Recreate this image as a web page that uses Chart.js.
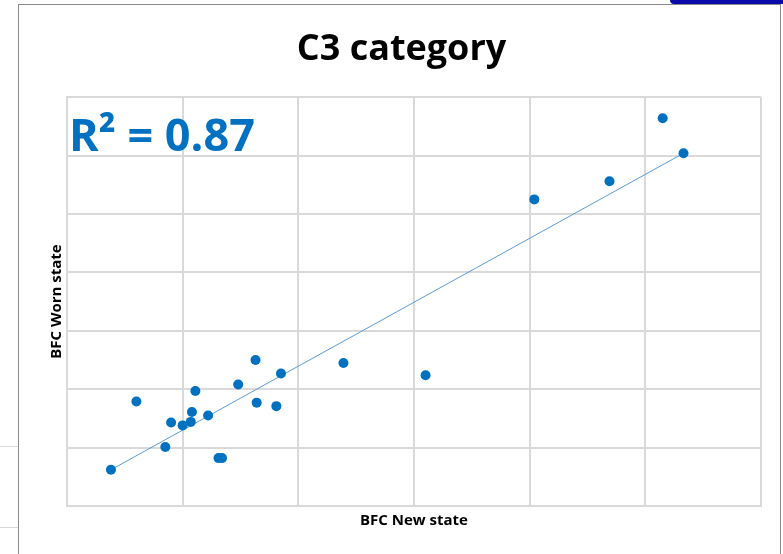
<!DOCTYPE html>
<html>
<head>
<meta charset="utf-8">
<script src="https://cdn.jsdelivr.net/npm/chart.js@4"></script>
<style>
  html, body { margin: 0; padding: 0; background: #fff; }
  #wrap { position: relative; width: 783px; height: 554px; overflow: hidden; }
  #frame { position: absolute; left: 18px; top: 4px; width: 763px; height: 560px; border: 1px solid #8a8a8a; box-sizing: border-box; }
  #topbar { position: absolute; left: 670px; top: 0; width: 113px; height: 4px; background: #0a0aa8; border-bottom-left-radius: 4px; }
  .stub { position: absolute; left: 0; width: 18px; height: 1px; background: #d8d8d8; }
  #r2 { position: absolute; left: 69px; top: 111px; font-family: "Open Sans", sans-serif; font-weight: bold; font-size: 45px; color: #0070C0; line-height: 1; white-space: nowrap; }
  canvas { position: absolute; left: 0; top: 0; }
</style>
</head>
<body>
<div id="wrap">
  <div id="frame"></div>
  <div id="topbar"></div>
  <div class="stub" style="top:446px"></div>
  <div class="stub" style="top:527px"></div>
  <canvas id="c3Chart" width="783" height="554"></canvas>
  <div id="r2">R² = 0.87</div>
</div>
<script>
const newState = [0.38, 0.60, 0.85, 0.90, 1.00, 1.07, 1.08, 1.11, 1.22, 1.31, 1.34, 1.48, 1.63, 1.64, 1.81, 1.85, 2.39, 3.10, 4.04, 4.69, 5.15, 5.33];
const wornState = [0.62, 1.79, 1.01, 1.43, 1.38, 1.44, 1.61, 1.97, 1.55, 0.82, 0.82, 2.08, 2.50, 1.77, 1.71, 2.27, 2.45, 2.24, 5.25, 5.56, 6.64, 6.04];
const trendX = [0.38, 5.33];
const trendY = [0.62, 6.04];

const points = newState.map((x, i) => ({ x: x, y: wornState[i] }));
const trend = trendX.map((x, i) => ({ x: x, y: trendY[i] }));

const gridColor = '#d9d9d9';

const ctx = document.getElementById('c3Chart').getContext('2d');

new Chart(ctx, {
    type: 'scatter',
    data: {
        datasets: [{
            label: 'BFC',
            data: points,
            backgroundColor: '#0070C0',
            borderWidth: 0,
            pointRadius: 5,
            order: 1
        }, {
            label: 'Linear trend',
            data: trend,
            showLine: true,
            borderColor: '#5B9BD5',
            borderWidth: 1,
            pointRadius: 0,
            fill: false,
            order: 2
        }]
    },
    options: {
        responsive: false,
        animation: false,
        layout: {
            padding: { left: 42, right: 22, top: 0, bottom: 22 }
        },
        plugins: {
            legend: { display: false },
            tooltip: { enabled: false },
            title: {
                display: true,
                text: 'C3 category',
                color: '#000',
                font: { family: 'Open Sans', size: 36, weight: 'bold' },
                padding: { top: 28, bottom: 26 }
            }
        },
        scales: {
            x: {
                min: 0,
                max: 6,
                ticks: { display: false, stepSize: 1 },
                grid: { color: gridColor, lineWidth: 2, drawTicks: false },
                border: { color: gridColor, width: 2 },
                title: {
                    display: true,
                    text: 'BFC New state',
                    color: '#000',
                    font: { family: 'Open Sans', size: 15, weight: 'bold' },
                    padding: { top: 6, bottom: 2 }
                }
            },
            y: {
                min: 0,
                max: 7,
                ticks: { display: false, stepSize: 1 },
                grid: { color: gridColor, lineWidth: 2, drawTicks: false },
                border: { color: gridColor, width: 2 },
                title: {
                    display: true,
                    text: 'BFC Worn state',
                    color: '#000',
                    font: { family: 'Open Sans', size: 15, weight: 'bold' },
                    padding: { top: 6, bottom: 1 }
                }
            }
        }
    }
});
</script>
</body>
</html>
